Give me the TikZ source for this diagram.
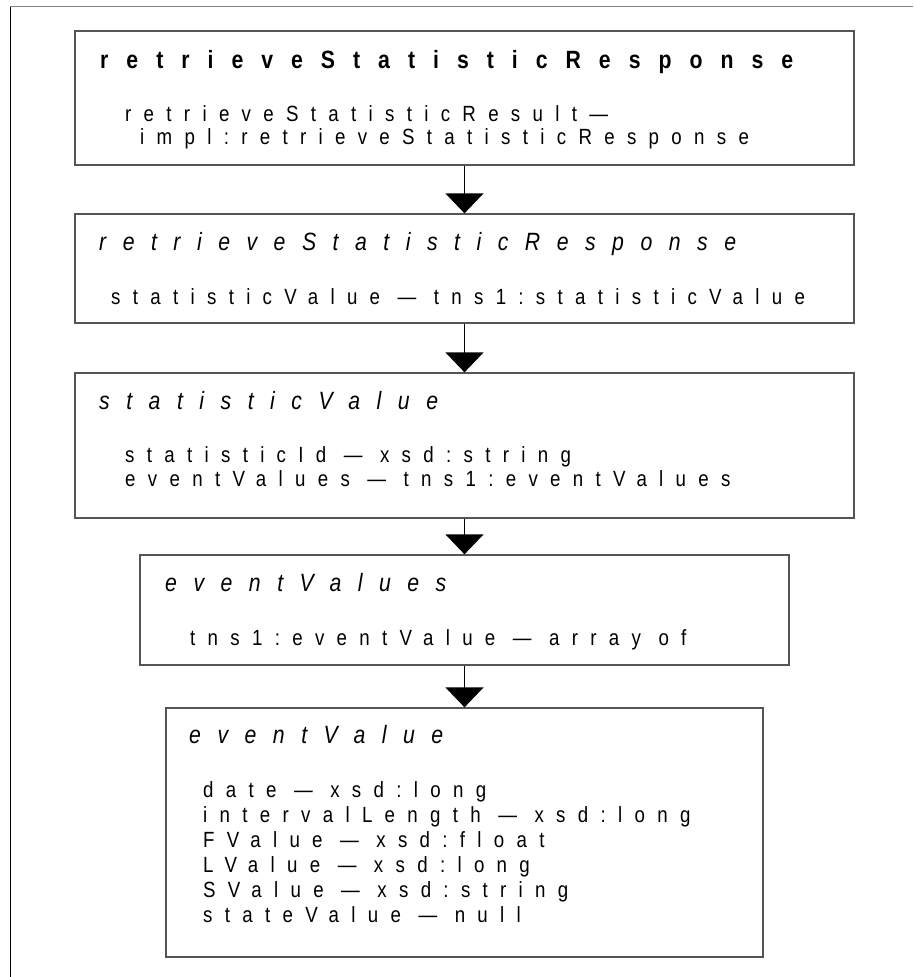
\documentclass[tikz,border=0pt]{standalone}
\usepackage{fontspec}
\setmainfont{Liberation Sans}[FakeStretch=0.85]
\newfontfamily\entryfont{Liberation Sans}[FakeStretch=0.85, LetterSpace=56]
\newfontfamily\headfont{Liberation Sans}[FakeStretch=0.85, LetterSpace=66]
\newfontfamily\rootfont{Liberation Sans Bold}[FakeStretch=0.85, LetterSpace=72]
\usetikzlibrary{arrows.meta}

\definecolor{boxline}{RGB}{85,85,85}
\definecolor{frameline}{RGB}{130,130,130}

\tikzset{
  typebox/.style={draw=boxline, line width=1.3pt, inner sep=0pt, minimum width=779pt},
  headtext/.style={anchor=base west, inner sep=0pt, font=\headfont\fontsize{25}{30}\selectfont\itshape},
  roottext/.style={anchor=base west, inner sep=0pt, font=\rootfont\fontsize{25}{30}\selectfont},
  entrytext/.style={anchor=base west, inner sep=0pt, font=\entryfont\fontsize{22}{25}\selectfont},
  flow/.style={draw=black, line width=1.3pt, -{Triangle[width=38pt,length=20pt]}}
}

\begin{document}
\begin{tikzpicture}[x=1pt, y=-1pt]
\useasboundingbox (0,0) rectangle (913,977);

% page frame
\draw[frameline, line width=1.2pt] (10.7,977) -- (10.7,6.7) -- (913,6.7);
\draw[black, line width=1.2pt] (10.7,977) -- (10.7,6.7);

% type boxes
\node[typebox, minimum height=134pt] (resp) at (464.5,98) {};
\node[typebox, minimum height=109pt] (respT) at (464.5,268.5) {};
\node[typebox, minimum height=145pt] (statV) at (464.5,445.5) {};
\node[typebox, minimum width=649pt, minimum height=110pt] (evVs) at (464.5,610) {};
\node[typebox, minimum width=597pt, minimum height=249pt] (evV) at (464.5,832.5) {};

% element: retrieveStatisticResponse
\node[roottext] (respH) at (100,68) {retrieveStatisticResponse};
\node[entrytext] (respA) at (125,121) {retrieveStatisticResult—};
\node[entrytext] (respB) at (140,144) {impl:retrieveStatisticResponse};

% type: retrieveStatisticResponse
\node[headtext] (respTH) at (99,250) {retrieveStatisticResponse};
\node[entrytext] (respTA) at (111,304) {statisticValue — tns1:statisticValue};

% type: statisticValue
\node[headtext] (statVH) at (99,409) {statisticValue};
\node[entrytext] (statVA) at (125,462) {statisticId — xsd:string};
\node[entrytext] (statVB) at (125,486) {eventValues — tns1:eventValues};

% type: eventValues
\node[headtext] (evVsH) at (165,591) {eventValues};
\node[entrytext] (evVsA) at (190,645) {tns1:eventValue — array of};

% type: eventValue
\node[headtext] (evVH) at (189,743) {eventValue};
\node[entrytext] (evVA) at (203,797) {date — xsd:long};
\node[entrytext] (evVB) at (203,822) {intervalLength — xsd:long};
\node[entrytext] (evVC) at (203,847) {FValue — xsd:float};
\node[entrytext] (evVD) at (203,872) {LValue — xsd:long};
\node[entrytext] (evVE) at (203,897) {SValue — xsd:string};
\node[entrytext] (evVF) at (203,922) {stateValue — null};

% connectors
\draw[flow] (resp.south) -- (respT.north);
\draw[flow] (respT.south) -- (statV.north);
\draw[flow] (statV.south) -- (evVs.north);
\draw[flow] (evVs.south) -- (evV.north);
\end{tikzpicture}
\end{document}
